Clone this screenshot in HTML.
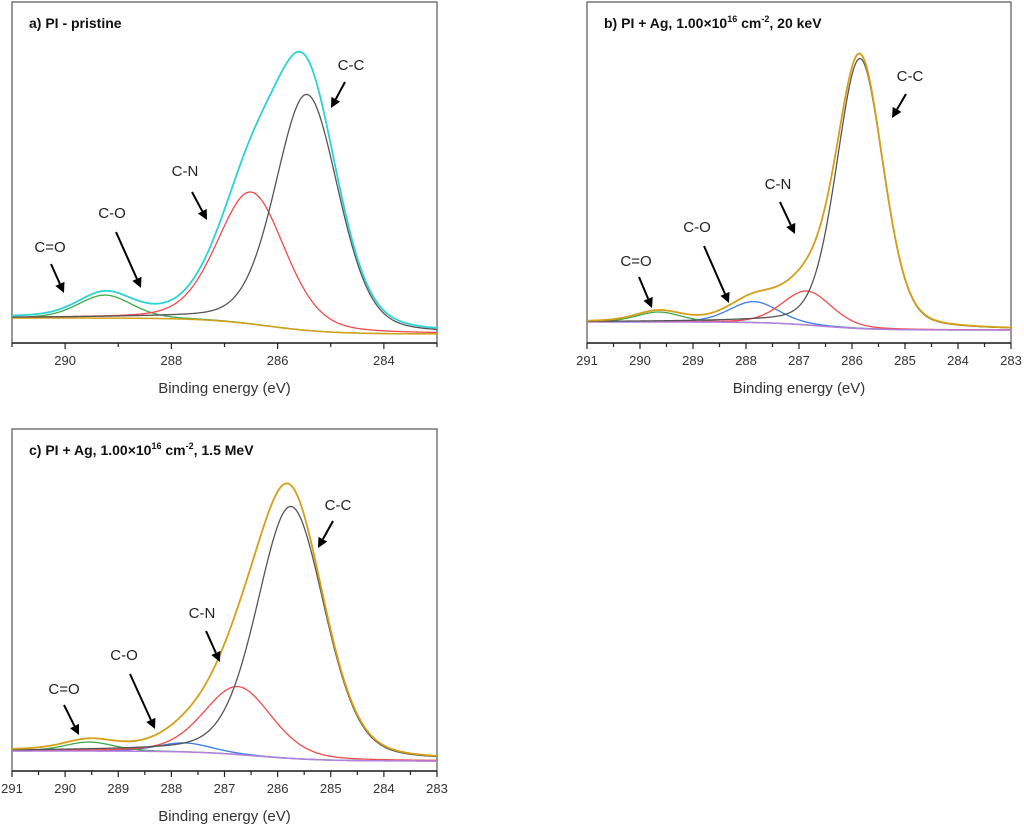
<!DOCTYPE html>
<html><head><meta charset="utf-8"><style>
html,body{margin:0;padding:0;background:#fff;}
svg{display:block;font-family:"Liberation Sans",Arial,sans-serif;}
</style></head><body>
<svg id="fig" width="1024" height="827" viewBox="0 0 1024 827"></svg>
<script>
// ---- data (binding energy, eV; intensities in arbitrary units) ----
const xTicksMajorA = [290, 288, 286, 284];
const xTicksMajorBC = [291, 290, 289, 288, 287, 286, 285, 284, 283];
// panel a components: [center, amplitude, fwhm]
const aCC = [285.45, 236, 1.4];
const aCN = [286.5, 132, 1.5];
const aCO = [288.6, 0, 1.2];
const aCdO = [289.25, 23, 1.2];
const aBg = [22, 6, 286.2, 0.6]; // left level, right level, step center, step width
// panel b
const bCC = [285.85, 270, 1.04];
const bCN = [286.85, 34, 1.1];
const bCO = [287.85, 21, 1.1];
const bCdO = [289.65, 10, 1.0];
const bBg = [18, 10, 286.6, 0.5];
// panel c
const cCC = [285.75, 252, 1.5];
const cCN = [286.75, 68, 1.5];
const cCO = [287.75, 9, 1.2];
const cCdO = [289.55, 9, 1.1];
const cBg = [17, 7, 286.4, 0.6];

const NS = "http://www.w3.org/2000/svg";
const svg = document.getElementById('fig');
function mk(tag, attrs, parent){const e=document.createElementNS(NS,tag);for(const k in attrs)e.setAttribute(k,attrs[k]);(parent||svg).appendChild(e);return e;}
function pv(x,c){const [c0,a,w]=c;const d=(x-c0)/(w/2);const g=Math.exp(-Math.log(2)*d*d);const l=1/(1+d*d);return a*(0.75*g+0.25*l);}
function bgv(x,b){const [L,R,c,w]=b;return R+(L-R)/(1+Math.exp(-(x-c)/w));}

function panel(id, P){
  const g=mk('g',{});
  
  
  const xs=v=>P.x0+(291-v)/8*(P.x1-P.x0);
  const ys=v=>P.ay-3-v;
  const fr=mk('rect',{x:P.x0,y:P.top,width:P.x1-P.x0,height:P.ay-P.top,fill:'none',stroke:'#555','stroke-width':1.2},g);
  
  
  const ax=mk('line',{x1:P.x0,x2:P.x1,y1:P.ay,y2:P.ay,stroke:'#222','stroke-width':1.5},g);
  
  
  for(let v=283;v<=291;v+=P.minor){
    const isMaj=P.ticks.includes(v);
    const t=mk('line',{x1:xs(v),x2:xs(v),y1:P.ay,y2:P.ay+(isMaj?6:4),stroke:'#222','stroke-width':1.2},g);
    
    
  }
  P.ticks.forEach(v=>{
    const t=mk('text',{x:xs(v),y:P.ay+22,'text-anchor':'middle','font-size':13,fill:'#333'},g);
    t.textContent=v;
    
    
  });
  const at=mk('text',{x:(P.x0+P.x1)/2,y:P.ay+50,'text-anchor':'middle','font-size':15,fill:'#333'},g);
  at.textContent='Binding energy (eV)';
  
  
  const tt=mk('text',{x:P.x0+17,y:P.top+26,'font-size':14,'font-weight':'bold',fill:'#111'},g);
  tt.innerHTML=P.title;
  
  
  const N=400;
  const path=f=>{let d='';for(let i=0;i<=N;i++){const x=291-8*i/N;d+=(i?'L':'M')+xs(x).toFixed(2)+','+ys(f(x)).toFixed(2);}return d;};
  const draw=(name,f,col,w)=>{const p=mk('path',{d:path(f),fill:'none',stroke:col,'stroke-width':w||1.3},g);};
  if(P.co[1]>0) draw('c-o-component',x=>bgv(x,P.bg)+pv(x,P.co),'#3a7be8');
  draw('c-dbl-o-component',x=>bgv(x,P.bg)+pv(x,P.cdo),'#3faa4a');
  draw('c-n-component',x=>bgv(x,P.bg)+pv(x,P.cn),'#ee4b4b');
  draw('background-line',x=>bgv(x,P.bg),P.bgCol,1.5);
  draw('c-c-component',x=>bgv(x,P.bg)+pv(x,P.cc),'#555');
  draw('envelope',x=>bgv(x,P.bg)+pv(x,P.cc)+pv(x,P.cn)+pv(x,P.co)+pv(x,P.cdo),P.envCol,1.8);
  P.ann.forEach(a=>{
    const [lab,lx,ly,x1,y1,x2,y2]=a;
    const t=mk('text',{x:lx,y:ly,'text-anchor':'middle','font-size':15,fill:'#222'},g);
    t.textContent=lab;
    
    
    const ang=Math.atan2(y2-y1,x2-x1);
    const bx=x2-10*Math.cos(ang),by=y2-10*Math.sin(ang);
    const l=mk('line',{x1:x1,y1:y1,x2:bx,y2:by,stroke:'#000','stroke-width':2},g);
    
    
    const px=-Math.sin(ang)*5,py=Math.cos(ang)*5;
    const h=mk('polygon',{points:`${x2},${y2} ${bx+px},${by+py} ${bx-px},${by-py}`,fill:'#000'},g);
    
    
  });
}
panel('panel-a',{x0:12,x1:437,top:2,ay:343,ticks:xTicksMajorA,minor:1,bg:aBg,cc:aCC,cn:aCN,co:aCO,cdo:aCdO,bgCol:'#d4a017',envCol:'#2cd3d3',
 title:'a) PI - pristine',
 ann:[['C-C',351,70,345,82,331,108],['C-N',185,176,192,192,207,220],['C-O',112,218,116,232,141,288],['C=O',50,252,51,264,64,293]]});
panel('panel-b',{x0:587,x1:1011,top:2,ay:343,ticks:xTicksMajorBC,minor:0.5,bg:bBg,cc:bCC,cn:bCN,co:bCO,cdo:bCdO,bgCol:'#b57ee0',envCol:'#d4a017',
 title:'b) PI + Ag, 1.00×10<tspan dy="-6" font-size="9">16</tspan><tspan dy="6"> cm</tspan><tspan dy="-6" font-size="9">-2</tspan><tspan dy="6">, 20 keV</tspan>',
 ann:[['C-C',910,81,906,94,892,118],['C-N',778,189,780,202,795,234],['C-O',697,232,704,246,729,303],['C=O',636,266,639,277,652,308]]});
panel('panel-c',{x0:12,x1:437,top:429,ay:771,ticks:xTicksMajorBC,minor:0.5,bg:cBg,cc:cCC,cn:cCN,co:cCO,cdo:cCdO,bgCol:'#b57ee0',envCol:'#d4a017',
 title:'c) PI + Ag, 1.00×10<tspan dy="-6" font-size="9">16</tspan><tspan dy="6"> cm</tspan><tspan dy="-6" font-size="9">-2</tspan><tspan dy="6">, 1.5 MeV</tspan>',
 ann:[['C-C',338,510,333,521,318,548],['C-N',202,618,206,631,220,662],['C-O',124,660,130,674,155,729],['C=O',64,694,64,705,79,735]]});
</script>
</body></html>
